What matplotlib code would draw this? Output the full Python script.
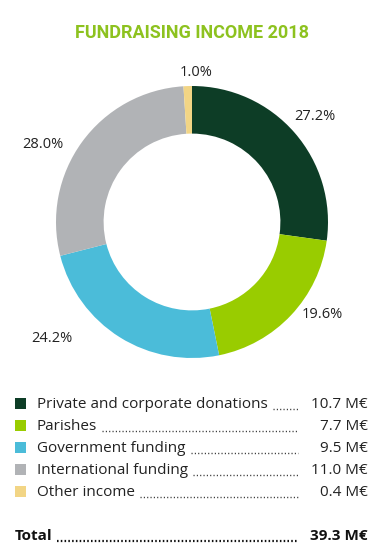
import matplotlib
matplotlib.use("Agg")
import matplotlib.pyplot as plt

categories = ["Private and corporate donations", "Parishes", "Government funding",
              "International funding", "Other income"]
values_meur = [10.7, 7.7, 9.5, 11.0, 0.4]
percents = [27.2, 19.6, 24.2, 28.0, 1.0]
value_labels = ["10.7 M€", "7.7 M€", "9.5 M€", "11.0 M€", "0.4 M€"]
total_label = "39.3 M€"
colors = ["#0d3d26", "#99cc00", "#4bbcd9", "#b1b3b6", "#f2d585"]
title = "FUNDRAISING INCOME 2018"

W, H = 384, 558
fig = plt.figure(figsize=(W/100, H/100), dpi=100)

body_font = "Open Sans"

ov = fig.add_axes([0, 0, 1, 1])
ov.set_xlim(0, W)
ov.set_ylim(H, 0)
ov.axis("off")

ov.text(192, 33, title, ha="center", va="center", fontsize=13, fontweight="bold",
        color="#8dc21f", family="Roboto")

cx, cy, R = 192, 222, 136
ax = fig.add_axes([(cx-R)/W, (H-cy-R)/H, 2*R/W, 2*R/H])
ax.pie(percents, colors=colors, startangle=90, counterclock=False,
       wedgeprops=dict(width=0.35, edgecolor="none"))
ax.set_xlim(-1, 1)
ax.set_ylim(-1, 1)
ax.set_aspect("equal")

label_pos = [(315, 117), (322, 315), (52, 338), (43, 145), (196, 72)]
for p, (x, y) in zip(percents, label_pos):
    ov.text(x, y, f"{p:.1f}%", ha="center", va="center", fontsize=10.5, color="#222222",
            family=body_font)

row_y = [404, 426, 448, 470, 492]
fig.canvas.draw()
renderer = fig.canvas.get_renderer()
inv = ov.transData.inverted()
dot_end = 298
for cat, col, vl, y in zip(categories, colors, value_labels, row_y):
    ov.add_patch(plt.Rectangle((15, y-6), 11, 11, color=col, lw=0))
    t = ov.text(37, y, cat, ha="left", va="center", fontsize=11, color="#222222",
                family=body_font)
    ov.text(368, y, vl, ha="right", va="center", fontsize=11, color="#222222",
            family=body_font)
    bb = t.get_window_extent(renderer)
    x_end = inv.transform((bb.x1, bb.y0))[0]
    ov.plot([x_end + 5, dot_end], [y + 4.5, y + 4.5], color="#333333", lw=1.0,
            linestyle=(0, (0.8, 1.6)))

ty = 536
t = ov.text(15, ty, "Total", ha="left", va="center", fontsize=11, fontweight="bold",
            color="#111111", family=body_font)
ov.text(368, ty, total_label, ha="right", va="center", fontsize=11, fontweight="bold",
        color="#111111", family=body_font)
bb = t.get_window_extent(renderer)
x_end = inv.transform((bb.x1, bb.y0))[0]
ov.plot([x_end + 4, dot_end], [ty + 4.5, ty + 4.5], color="#111111", lw=1.6,
        linestyle=(0, (0.7, 1.0)))

fig.savefig("out.png", dpi=100)
